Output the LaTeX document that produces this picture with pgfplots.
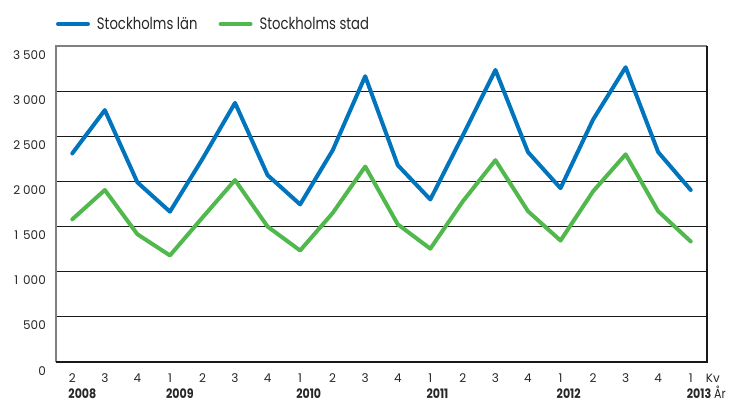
\documentclass[border=0pt]{standalone}
\usepackage{fontspec}
\setmainfont{Poppins}
\newfontfamily\legfont[FakeStretch=0.8]{Poppins}
\newfontfamily\yearfont[FakeStretch=0.85]{Poppins}
\usepackage{pgfplots}
\pgfplotsset{compat=1.18}
\definecolor{lanblue}{RGB}{0,116,188}
\definecolor{stadgreen}{RGB}{80,184,76}
\newcommand{\ts}{\hspace{3pt}}
\newcommand{\tsa}{\hspace{5pt}}
\begin{document}
\begin{tikzpicture}[font=\fontsize{12}{14}\selectfont]
\path[use as bounding box] (-56pt,-44pt) rectangle (686pt,362pt);
\begin{axis}[at={(0pt,0pt)}, anchor=south west, scale only axis, width=651pt, height=316pt,
 clip=false,
 xmin=-0.5, xmax=19.5, ymin=0, ymax=3500,
 ytick={0,500,...,3500}, xtick={0,...,19},
 yticklabels={0,500,1\tsa000,1\tsa500,2\ts000,2\ts500,3\ts000,3\ts500},
 xticklabels={2,3,4,1,2,3,4,1,2,3,4,1,2,3,4,1,2,3,4,1},
 major tick length=0pt,
 ymajorgrids, grid style={black!90, line width=0.9pt},
 axis line style={draw=none},
 yticklabel style={anchor=north east, inner sep=1pt, xshift=-9pt, yshift=-3pt, text=black!85},
 xticklabel style={anchor=base, yshift=-21pt, text=black!85},
 legend style={at={(0,1)}, anchor=west, yshift=22pt, draw=none, fill=none, inner sep=0pt, outer sep=0pt,
   font=\legfont\fontsize{16.5}{19}\selectfont, nodes={inner sep=0pt, text=black!85},
   /tikz/every odd column/.append style={column sep=7pt},
   /tikz/every even column/.append style={column sep=21pt}},
 legend columns=2,
 legend image code/.code={\draw[#1, line cap=round] (0pt,0pt) -- (30pt,0pt);},
]
\addplot[lanblue, line width=4pt, line join=round, line cap=round] coordinates {
 (0,2310) (1,2790) (2,1990) (3,1665) (4,2250) (5,2870) (6,2070) (7,1745) (8,2345) (9,3165)
 (10,2180) (11,1800) (12,2510) (13,3235) (14,2325) (15,1925) (16,2685) (17,3265) (18,2325) (19,1905)};
\addlegendentry{Stockholms län}
\addplot[stadgreen, line width=4pt, line join=round, line cap=round] coordinates {
 (0,1580) (1,1905) (2,1415) (3,1180) (4,1600) (5,2015) (6,1500) (7,1235) (8,1650) (9,2165)
 (10,1525) (11,1255) (12,1780) (13,2235) (14,1670) (15,1345) (16,1890) (17,2300) (18,1670) (19,1335)};
\addlegendentry{Stockholms stad}
\draw[black!50, line width=1.2pt] (rel axis cs:0,0) -- (rel axis cs:0,1) -- (rel axis cs:1,1);
\draw[black!90, line width=1.3pt] (rel axis cs:0,0) -- (rel axis cs:1,0) -- (rel axis cs:1,1);
\node[anchor=base west, inner sep=0pt, xshift=-4pt, yshift=-37pt, font=\yearfont\fontsize{13}{15}\selectfont\bfseries, text=black!85] at (axis cs:0,0) {2008};
\node[anchor=base west, inner sep=0pt, xshift=-4pt, yshift=-37pt, font=\yearfont\fontsize{13}{15}\selectfont\bfseries, text=black!85] at (axis cs:3,0) {2009};
\node[anchor=base west, inner sep=0pt, xshift=-4pt, yshift=-37pt, font=\yearfont\fontsize{13}{15}\selectfont\bfseries, text=black!85] at (axis cs:7,0) {2010};
\node[anchor=base west, inner sep=0pt, xshift=-4pt, yshift=-37pt, font=\yearfont\fontsize{13}{15}\selectfont\bfseries, text=black!85] at (axis cs:11,0) {2011};
\node[anchor=base west, inner sep=0pt, xshift=-4pt, yshift=-37pt, font=\yearfont\fontsize{13}{15}\selectfont\bfseries, text=black!85] at (axis cs:15,0) {2012};
\node[anchor=base west, inner sep=0pt, xshift=-4pt, yshift=-37pt, font=\yearfont\fontsize{13}{15}\selectfont, text=black!85] at (axis cs:19,0) {\textbf{2013} År};
\node[anchor=base west, inner sep=0pt, xshift=15pt, yshift=-21pt, text=black!85] at (axis cs:19,0) {Kv};
\end{axis}
\end{tikzpicture}
\end{document}
